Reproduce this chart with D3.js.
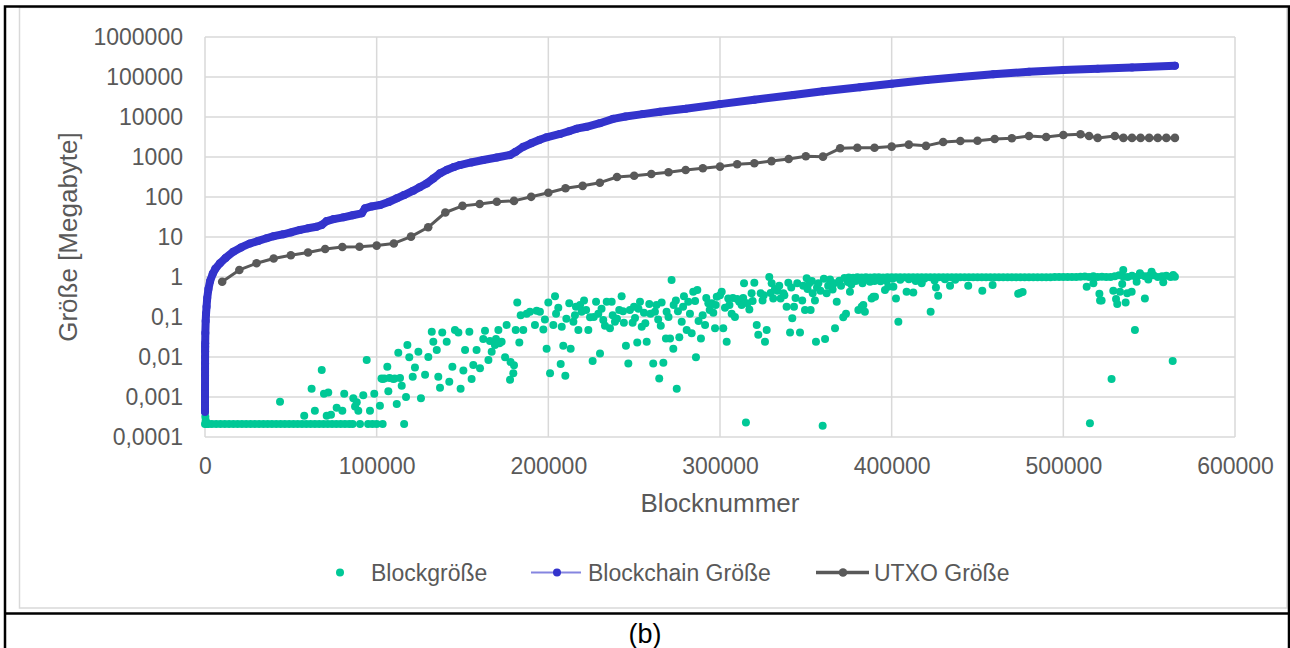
<!DOCTYPE html>
<html>
<head>
<meta charset="utf-8">
<script src="https://cdn.jsdelivr.net/npm/d3@7"></script>
<style>
body{margin:0;background:#fff;}
svg{display:block;font-family:"Liberation Sans",Arial,sans-serif;}
</style>
</head>
<body>
<svg id="chart" width="1290" height="648"></svg>
<script>
// --- data (block number, megabyte) ---
const yTicks = [0.0001, 0.001, 0.01, 0.1, 1, 10, 100, 1000, 10000, 100000, 1000000];
const xTicks = [0, 100000, 200000, 300000, 400000, 500000, 600000];
const seriesNames = ['Blockgröße', 'Blockchain Größe', 'UTXO Größe'];

// Blockgröße: the flat row of empty blocks at the start
const blockRow = [[0,0.00021],[200,0.00032],[400,0.00026],[700,0.00023],[1000,0.00021],[2000,0.00021],[4000,0.00021],
  [6500,0.00021],[9000,0.00021],[11500,0.00021],[14000,0.00021],[16500,0.00021],[19000,0.00021],[21500,0.00021],
  [24000,0.00021],[26500,0.00021],[29000,0.00021],[31500,0.00021],[34000,0.00021],[36500,0.00021],[39000,0.00021],
  [41500,0.00021],[44000,0.00021],[46500,0.00021],[49000,0.00021],[51500,0.00021],[54000,0.00021],[56500,0.00021],
  [59000,0.00021],[61500,0.00021],[64000,0.00021],[66500,0.00021],[69000,0.00021],[71500,0.00021],[74000,0.00021],
  [76500,0.00021],[79000,0.00021],[81500,0.00021],[84000,0.00021],[86000,0.00021],[90300,0.00021],[95000,0.00021],
  [97500,0.00021],[100000,0.00021],[103500,0.00021],[116000,0.00021]];

// Blockgröße: scattered samples
const blockScatter = [[43700,0.00076],[57800,0.00034],[62100,0.0016],[64000,0.00045],[68000,0.0047],[69300,0.0012],
  [70900,0.00034],[71800,0.0013],[73400,0.00036],[76700,0.00054],[80000,0.00045],[81100,0.0012],[86400,0.00093],
  [87400,0.00058],[88400,0.00074],[89300,0.00045],[92200,0.0011],[94200,0.0084],[96100,0.00045],[98600,0.0012],
  [101900,0.0006],[102800,0.0029],[103500,0.0028],[104500,0.0029],[106200,0.0057],[106800,0.0014],[107500,0.003],
  [109700,0.0028],[110500,0.0029],[111700,0.00067],[112600,0.0128],[113600,0.003],[114600,0.0019],[117100,0.001],
  [117900,0.02],[119000,0.0098],[121000,0.0032],[122300,0.0055],[124300,0.0135],[125800,0.00093],[128200,0.0036],
  [130100,0.01],[132100,0.043],[133000,0.024],[135000,0.015],[135900,0.0032],[136900,0.0017],[138200,0.041],
  [140800,0.024],[142300,0.0024],[144100,0.0057],[145600,0.047],[147600,0.041],[148900,0.0016],[150500,0.0046],
  [151500,0.015],[154000,0.043],[155300,0.0028],[156300,0.0063],[158200,0.015],[160200,0.0052],[162100,0.028],
  [163100,0.045],[165100,0.0084],[166000,0.025],[167000,0.0135],[168900,0.02],[169500,0.028],[170900,0.047],
  [171500,0.022],[172800,0.024],[174800,0.0098],[175700,0.063],[177700,0.0027],[178000,0.0075],[179600,0.0039],
  [180000,0.0062],[181000,0.047],[181900,0.23],[183100,0.023],[183900,0.11],[185400,0.047],[187400,0.12],
  [189300,0.135],[192200,0.063],[193200,0.144],[195100,0.135],[197100,0.049],[198000,0.087],[199000,0.016],
  [200000,0.23],[201000,0.0039],[202900,0.063],[203900,0.33],[204500,0.12],[205800,0.17],[207200,0.0067],
  [207800,0.057],[208700,0.019],[209900,0.0034],[210500,0.09],[212200,0.22],[213000,0.016],[214600,0.076],
  [215500,0.11],[216100,0.18],[217500,0.047],[218500,0.2],[219400,0.135],[220800,0.26],[222000,0.15],
  [223300,0.047],[224300,0.098],[225800,0.008],[226500,0.1],[227800,0.24],[229100,0.12],[230100,0.0123],
  [231000,0.16],[232000,0.084],[233000,0.06],[234000,0.24],[235900,0.052],[236900,0.24],[237500,0.11],
  [238800,0.076],[240000,0.09],[241300,0.15],[242700,0.33],[243500,0.14],[244000,0.072],[245200,0.019],
  [246600,0.0069],[247500,0.15],[249100,0.072],[249900,0.18],[250500,0.095],[251800,0.023],[252500,0.16],
  [253400,0.24],[254400,0.057],[255700,0.128],[256500,0.07],[257300,0.024],[258800,0.21],[259500,0.12],
  [261100,0.0069],[262100,0.135],[263000,0.2],[264000,0.087],[264600,0.0029],[265500,0.06],[266000,0.23],
  [267000,0.0072],[268500,0.029],[268900,0.135],[270000,0.1],[270900,0.029],[271800,0.84],[272800,0.016],
  [273000,0.2],[274300,0.26],[274800,0.0016],[275500,0.14],[276300,0.031],[277700,0.076],[278500,0.18],
  [279000,0.33],[280600,0.047],[281500,0.24],[282500,0.12],[283500,0.039],[284400,0.43],[285500,0.25],
  [286000,0.0098],[286800,0.47],[287500,0.08],[288900,0.029],[289900,0.11],[291300,0.063],[292000,0.3],
  [293200,0.22],[294000,0.15],[295200,0.22],[296100,0.128],[297100,0.052],[297500,0.2],[298100,0.32],
  [300000,0.35],[301000,0.43],[301900,0.052],[302900,0.17],[303900,0.024],[304800,0.29],[305500,0.2],
  [306800,0.12],[307500,0.3],[308700,0.1],[310000,0.28],[311200,0.24],[312600,0.2],[313500,0.3],[314000,0.7],
  [315100,0.00023],[316000,0.22],[317100,0.155],[318400,0.39],[319000,0.25],[320000,0.72],[321400,0.063],
  [322300,0.036],[323700,0.39],[324800,0.26],[325500,0.35],[326200,0.024],[327200,0.047],[328700,1.0],
  [329500,0.4],[330100,0.7],[331000,0.29],[332000,0.5],[333400,0.45],[334500,0.6],[335300,0.29],[336900,0.39],
  [337500,0.35],[338800,0.18],[339800,0.72],[340800,0.041],[341500,0.55],[342100,0.093],[343100,0.18],
  [344000,0.3],[345000,0.7],[346600,0.041],[347900,0.26],[348500,0.6],[349500,0.15],[350500,0.93],[351000,0.5],
  [352000,0.7],[352800,0.15],[353500,0.8],[354000,0.39],[355300,0.26],[355900,0.024],[356500,0.55],[357300,0.7],
  [358500,0.45],[359800,0.00019],[360500,0.9],[361200,0.028],[362100,0.39],[363000,0.6],[364100,0.87],
  [365600,0.49],[366500,0.7],[367000,0.052],[368000,0.24],[369500,0.81],[370500,0.6],[371800,0.098],
  [373400,0.12],[374500,0.75],[375700,0.43],[376500,0.65],[377600,0.87],[379000,0.8],[380600,0.15],
  [382500,0.18],[383000,0.7],[383500,0.2],[384000,0.85],[384400,0.135],[386000,0.85],[387400,0.76],
  [388300,0.29],[389300,0.32],[390000,0.8],[390300,0.32],[393500,0.78],[396100,0.47],[397000,0.8],[398000,0.57],
  [400500,0.9],[401000,0.57],[402500,0.29],[403900,0.076],[405000,0.85],[408700,0.43],[410000,0.88],
  [412600,0.41],[414000,0.8],[417500,0.7],[419000,0.9],[422700,0.135],[425000,0.82],[425800,0.55],[427100,0.34],
  [431000,0.88],[434000,0.6],[437000,0.85],[444600,0.6],[452800,0.45],[458800,0.63],[473700,0.38],[474700,0.4],
  [476300,0.42],[513600,0.57],[515500,0.00022],[517500,0.7],[521000,0.38],[521400,0.26],[522300,0.26],
  [528100,0.0028],[529100,0.45],[530700,0.28],[531400,0.21],[533000,0.43],[534300,0.67],[534900,1.5],
  [536300,0.23],[537200,0.39],[539800,0.43],[541700,0.047],[542700,0.76],[544600,1.24],[547500,0.29],
  [549500,0.87],[551400,1.36],[558200,0.74],[563700,0.008],[564000,1.12]];

// Blockgröße: the dense band at about 1 MB
const blockBand = [[372500,0.95],[375000,0.97],[377500,0.96],[380000,0.98],[382500,0.97],[385000,0.98],
  [387500,0.97],[390000,0.98],[392500,0.98],[395000,0.97],[397500,0.98],[400000,0.98],[402500,0.99],
  [405000,0.98],[407500,0.98],[410000,0.99],[412500,0.98],[415000,0.98],[417500,0.99],[420000,0.98],
  [422500,0.98],[425000,0.99],[427500,0.98],[430000,0.98],[432500,0.99],[435000,0.98],[437500,0.98],
  [440000,0.99],[442500,0.98],[445000,0.98],[447500,0.98],[450000,0.98],[452500,0.98],[455000,0.98],
  [457500,0.98],[460000,0.98],[462500,0.98],[465000,0.98],[467500,0.98],[470000,0.98],[472500,0.98],
  [475000,0.98],[477500,0.98],[480000,0.99],[482500,0.99],[485000,0.99],[487500,0.99],[490000,0.99],
  [492500,0.99],[495000,1.0],[497500,1.0],[500000,1.0],[502500,1.0],[505000,1.0],[507500,1.0],[510000,1.02],
  [512500,1.03],[515000,1.0],[517500,1.05],[520000,1.0],[522500,1.02],[525000,1.0],[527500,1.0],[530000,1.05],
  [532500,1.1],[535000,1.02],[537500,1.0],[540000,1.08],[542500,1.0],[545000,1.12],[547500,1.05],[550000,1.08],
  [552500,1.1],[555000,1.0],[557500,1.05],[560000,1.08],[562500,1.0],[565000,1.02]];

// Blockchain Größe (cumulative)
const chainSize = [[2,0.00043],[3,0.0006],[5,0.0009],[7,0.0013],[10,0.0018],[20,0.0035],[25,0.005],[35,0.007],
  [50,0.01],[70,0.014],[90,0.018],[110,0.022],[200,0.04],[400,0.08],[600,0.12],[900,0.18],[1300,0.3],[2000,0.5],
  [3000,0.8],[4500,1.2],[6000,1.6],[8700,2.2],[12000,3.0],[16500,4.3],[21000,5.5],[26200,6.9],[31000,8.0],
  [35900,9.3],[40000,10.5],[45600,11.7],[50000,13],[55300,15],[60000,16.5],[65000,18],[68000,20],[70900,25],
  [75000,28],[80600,31],[86000,35],[91300,39],[93200,52],[97000,58],[102000,63],[107000,75],[111700,93],
  [116000,112],[121300,144],[125000,175],[129100,218],[133000,290],[136900,390],[141000,480],[145000,560],
  [148500,630],[155000,730],[162100,840],[170000,970],[177700,1120],[181000,1350],[185400,1800],[190000,2200],
  [195000,2700],[199000,3100],[206800,3760],[212000,4400],[216500,5100],[222300,5700],[230000,7000],
  [237800,9000],[245000,10300],[255000,11800],[265000,13500],[280000,16000],[300000,21000],[320000,27000],
  [342700,35500],[360000,44000],[381500,55500],[400000,68000],[420400,84000],[440000,100000],[459200,117000],
  [480000,135000],[500000,150000],[520000,161000],[540000,173000],[565000,192000]];

// UTXO Größe
const utxoSize = [[10000,0.76],[20000,1.5],[30000,2.2],[40000,2.9],[50000,3.5],[60000,4.1],[70000,5.0],
  [80000,5.6],[90000,5.7],[100000,6.1],[110000,6.9],[120000,10.2],[130000,17.5],[140000,41],[150000,60],
  [160000,67],[170000,76],[180000,80],[190000,101],[200000,128],[210000,165],[220000,190],[230000,228],
  [240000,316],[250000,340],[260000,376],[270000,415],[280000,473],[290000,522],[300000,575],[310000,660],
  [320000,700],[330000,790],[340000,890],[350000,1040],[360000,1020],[370000,1650],[380000,1700],[390000,1700],
  [400000,1820],[410000,2040],[420000,1900],[430000,2370],[440000,2510],[450000,2550],[460000,2820],
  [470000,2950],[480000,3350],[490000,3160],[500000,3550],[510000,3700],[515000,3350],[520000,3000],
  [530000,3350],[535000,3000],[540000,3000],[545000,3000],[550000,3000],[555000,3000],[560000,3000],[565000,3000]];

// --- layout ---
const green = '#00c896', blue = '#3333cc', grey = '#595959', gridCol = '#d9d9d9';
const svg = d3.select('#chart');

const x = d3.scaleLinear().domain([0, 600000]).range([205, 1235]);
const y = d3.scaleLog().domain([0.0001, 1000000]).range([437, 37]);

// frame: black table lines + light chart border
svg.append('rect').attr('x',19.5).attr('y',7.5).attr('width',1267.5).attr('height',600.5)
  .attr('fill','#fff').attr('stroke','#d9d9d9').attr('stroke-width',1.5);
svg.append('path').attr('d','M5,648V6.5H1289V648M5,613.5H1289')
  .attr('fill','none').attr('stroke','#000').attr('stroke-width',2.5);

// grid
svg.append('g').selectAll('line').data(yTicks).join('line')
  .attr('x1',x(0)).attr('x2',x(600000)).attr('y1',d=>y(d)).attr('y2',d=>y(d))
  .attr('stroke',gridCol).attr('stroke-width',1.5);
svg.append('g').selectAll('line').data(xTicks).join('line')
  .attr('x1',d=>x(d)).attr('x2',d=>x(d)).attr('y1',y(1000000)).attr('y2',y(0.0001))
  .attr('stroke',gridCol).attr('stroke-width',1.5);

// axes
const fmtY = d => d >= 1 ? String(d) : String(d).replace('.', ',');
const yAxis = svg.append('g').attr('transform',`translate(${x(0)},0)`)
  .call(d3.axisLeft(y).tickValues(yTicks).tickFormat(fmtY).tickSize(0).tickPadding(22));
const xAxis = svg.append('g').attr('transform',`translate(0,${y(0.0001)})`)
  .call(d3.axisBottom(x).tickValues(xTicks).tickFormat(d=>String(d)).tickSize(0).tickPadding(21));
[yAxis, xAxis].forEach(a => {
  a.select('.domain').remove();
  a.selectAll('text').attr('fill',grey).style('font-size','23px').style('font-family','"Liberation Sans",Arial,sans-serif');
});

// titles
svg.append('text').attr('x',720).attr('y',512).attr('text-anchor','middle')
  .attr('fill',grey).style('font-size','26px').text('Blocknummer');
svg.append('text').attr('transform','translate(68,237) rotate(-90)').attr('dy','0.36em')
  .attr('text-anchor','middle').attr('fill',grey).style('font-size','26px').text('Größe [Megabyte]');

// Blockgröße
const blockAll = blockRow.concat(blockScatter, blockBand);
svg.append('g').selectAll('circle').data(blockAll).join('circle')
  .attr('cx',d=>x(d[0])).attr('cy',d=>y(d[1])).attr('r',4).attr('fill',green);

// Blockchain Größe
const line = d3.line().x(d=>x(d[0])).y(d=>y(d[1]));
svg.append('path').datum(chainSize).attr('d',line).attr('fill','none')
  .attr('stroke',blue).attr('stroke-width',8).attr('stroke-linecap','round').attr('stroke-linejoin','round');
svg.append('g').selectAll('circle').data(chainSize).join('circle')
  .attr('cx',d=>x(d[0])).attr('cy',d=>y(d[1])).attr('r',4).attr('fill',blue);

// UTXO Größe
svg.append('path').datum(utxoSize).attr('d',line).attr('fill','none')
  .attr('stroke',grey).attr('stroke-width',3).attr('stroke-linejoin','round');
svg.append('g').selectAll('circle').data(utxoSize).join('circle')
  .attr('cx',d=>x(d[0])).attr('cy',d=>y(d[1])).attr('r',4.3).attr('fill',grey);

// legend
const ly = 572.5;
const leg = svg.append('g');
leg.append('circle').attr('cx',340).attr('cy',ly).attr('r',4).attr('fill',green);
leg.append('line').attr('x1',531).attr('x2',581).attr('y1',ly).attr('y2',ly).attr('stroke','#8585e0').attr('stroke-width',2);
leg.append('circle').attr('cx',557).attr('cy',ly).attr('r',4).attr('fill',blue);
leg.append('line').attr('x1',816).attr('x2',869).attr('y1',ly).attr('y2',ly).attr('stroke',grey).attr('stroke-width',3.5);
leg.append('circle').attr('cx',843).attr('cy',ly).attr('r',4.3).attr('fill',grey);
leg.selectAll('text').data(seriesNames).join('text')
  .attr('x',(d,i)=>[371,588,874][i]).attr('y',ly).attr('dy','0.36em')
  .attr('fill',grey).style('font-size','23px').text(d=>d);

// caption
svg.append('text').attr('x',645).attr('y',633).attr('dy','0.36em').attr('text-anchor','middle')
  .attr('fill','#000').style('font-size','27px').text('(b)');
</script>
</body>
</html>
